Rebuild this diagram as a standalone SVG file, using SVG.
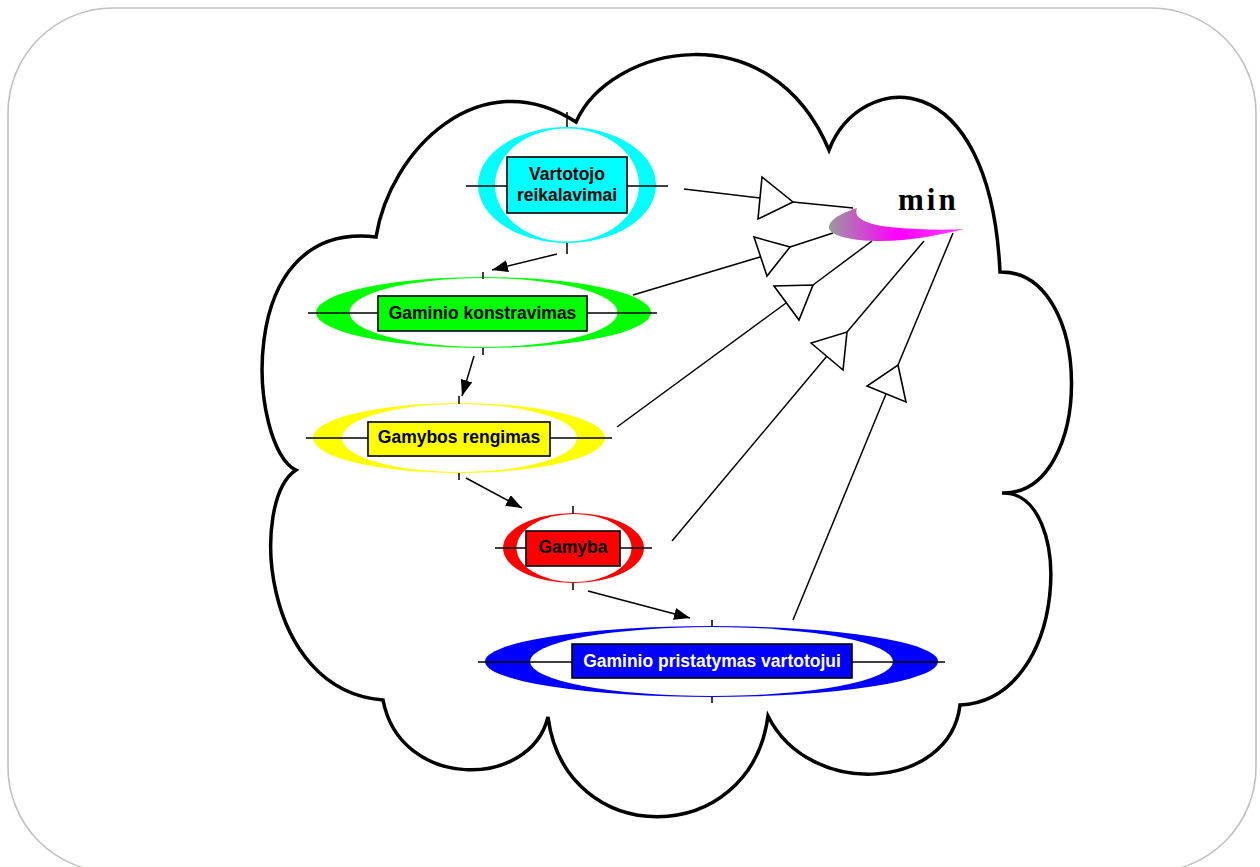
<svg xmlns="http://www.w3.org/2000/svg" width="1260" height="867" viewBox="0 0 1260 867">
  <defs>
    <marker id="arrow" markerUnits="userSpaceOnUse" markerWidth="17" markerHeight="13" refX="16" refY="6" orient="auto">
      <path d="M0,0 L16,6 L0,12 Z" fill="#000"/>
    </marker>
    <linearGradient id="minGrad" gradientUnits="userSpaceOnUse" x1="829" y1="0" x2="964" y2="0">
      <stop offset="0" stop-color="#9a9a9a"/>
      <stop offset="0.5" stop-color="#ff00ff"/>
      <stop offset="1" stop-color="#ff40ff"/>
    </linearGradient>
  </defs>
  <style>
    .frame { fill: #fff; stroke: #c0c0c0; stroke-width: 1.6; }
    .cloud { fill: none; stroke: #000; stroke-width: 3.5; stroke-linejoin: miter; }
    .hole { fill: #fff; }
    .axis { stroke: #000; stroke-width: 1.5; fill: none; }
    .box { stroke: #000; stroke-width: 1.6; }
    .label { font-family: "Liberation Sans", Arial, sans-serif; font-weight: bold; font-size: 17.5px; text-anchor: middle; fill: #000; }
    .link { stroke: #000; stroke-width: 1.5; fill: none; }
    .flow { stroke: #000; stroke-width: 1.5; fill: none; marker-end: url(#arrow); }
    .amp { fill: #fff; stroke: #000; stroke-width: 1.6; stroke-linejoin: miter; }
    .min { font-family: "Liberation Serif", "Times New Roman", serif; font-weight: bold; font-size: 31px; letter-spacing: 3px; fill: #000; }
  </style>

  <!-- outer frame -->
  <rect class="frame" x="8" y="8" width="1248" height="864" rx="105" ry="105"/>

  <!-- cloud boundary -->
  <path class="cloud" d="M376,237
    C390,150 480,60 576,122
    C610,45 770,10 829,150
    C860,70 990,60 1000,272
    C1095,270 1095,495 1002,493
    C1075,490 1070,700 960,705
    C950,790 810,800 768,716
    C750,850 565,850 548,717
    C530,790 400,790 383,700
    C260,690 250,500 296,470
    C250,450 230,220 376,237 Z"/>

  <!-- flow arrows between stages -->
  <g id="connectors">
    <path class="flow" d="M557,254 L492,270"/>
    <path class="flow" d="M474,356 L462,396"/>
    <path class="flow" d="M466,478 L522,508"/>
    <path class="flow" d="M588,591 L690,618"/>

    <!-- links from stages to the min criterion -->
    <path class="link" d="M684,189 L760,198"/>
    <path class="link" d="M793,202 L853,208"/>
    <polygon class="amp" points="762,177 758,219 793,202"/>

    <path class="link" d="M633,295 L760,257"/>
    <path class="link" d="M790,247 L833,233"/>
    <polygon class="amp" points="754,237 767,276 790,247"/>

    <path class="link" d="M617,427 L786,303"/>
    <path class="link" d="M813,285 L872,241"/>
    <polygon class="amp" points="774,286 799,320 813,285"/>

    <path class="link" d="M672,541 L827,356"/>
    <path class="link" d="M847,332 L924,241"/>
    <polygon class="amp" points="811,343 843,370 847,332"/>

    <path class="link" d="M793,620 L886,394"/>
    <path class="link" d="M898,365 L953,233"/>
    <polygon class="amp" points="867,386 906,402 898,365"/>
  </g>

  <!-- min criterion -->
  <g id="min">
    <path d="M857,208 C852,220 872,226 900,228 C930,230 950,230 964,229 C940,235 905,242 875,241 C845,240 828,234 829,227 C830,218 845,212 857,208 Z" fill="url(#minGrad)"/>
    <text class="min" x="898" y="210">min</text>
  </g>

  <!-- stage: customer requirements -->
  <g id="vartotojo-reikalavimai">
    <ellipse cx="567" cy="185" rx="89" ry="58" fill="#00ffff"/>
    <ellipse class="hole" cx="567" cy="185" rx="72" ry="56.5"/>
    <path class="axis" d="M466,186 H668 M567,112 V127 M567,243 V254"/>
    <rect class="box" x="507" y="157" width="120" height="56" fill="#00ffff"/>
    <text class="label" x="567" y="180">Vartotojo</text>
    <text class="label" x="567" y="201">reikalavimai</text>
  </g>

  <!-- stage: product design -->
  <g id="gaminio-konstravimas">
    <ellipse cx="483.5" cy="312.5" rx="167.5" ry="35.5" fill="#00ff00"/>
    <ellipse class="hole" cx="483.5" cy="312.5" rx="134" ry="34.5"/>
    <path class="axis" d="M308,313 H657 M483,272 V279 M483,348 V355"/>
    <rect class="box" x="378" y="296" width="209" height="35" fill="#00ff00"/>
    <text class="label" x="482.5" y="319">Gaminio konstravimas</text>
  </g>

  <!-- stage: production preparation -->
  <g id="gamybos-rengimas">
    <ellipse cx="459" cy="438" rx="146" ry="35" fill="#ffff00"/>
    <ellipse class="hole" cx="459.5" cy="438" rx="117.5" ry="34"/>
    <path class="axis" d="M306,438 H612 M459,396 V404 M459,473 V480"/>
    <rect class="box" x="368" y="422" width="182" height="34" fill="#ffff00"/>
    <text class="label" x="459" y="443">Gamybos rengimas</text>
  </g>

  <!-- stage: production -->
  <g id="gamyba">
    <ellipse cx="573.5" cy="548" rx="70.5" ry="35" fill="#ff0000"/>
    <ellipse class="hole" cx="574" cy="548" rx="57.5" ry="34"/>
    <path class="axis" d="M495,548 H652 M573,506 V514 M573,583 V590"/>
    <rect class="box" x="526" y="531" width="94" height="35" fill="#ff0000"/>
    <text class="label" x="573" y="553">Gamyba</text>
  </g>

  <!-- stage: delivery to customer -->
  <g id="gaminio-pristatymas">
    <ellipse cx="711.5" cy="661.5" rx="226.5" ry="35.5" fill="#0000ff"/>
    <ellipse class="hole" cx="711.5" cy="661.5" rx="181.5" ry="34.5"/>
    <path class="axis" d="M478,662 H945 M712,620 V627 M712,697 V703"/>
    <rect class="box" x="572" y="644" width="280" height="34" fill="#0000ff"/>
    <text class="label" x="712" y="667" style="fill:#fff">Gaminio pristatymas vartotojui</text>
  </g>
</svg>
